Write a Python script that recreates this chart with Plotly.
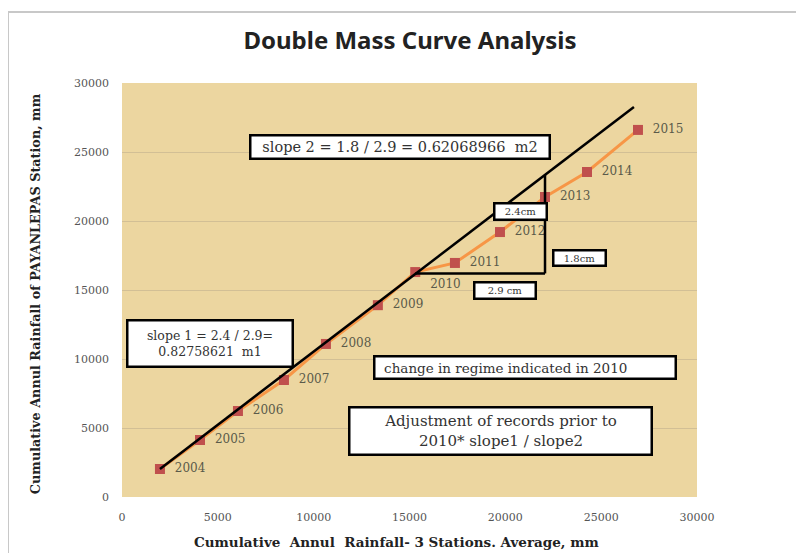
import plotly.graph_objects as go

years = ["2004", "2005", "2006", "2007", "2008", "2009", "2010", "2011", "2012", "2013", "2014", "2015"]
avg_cum = [1980, 4070, 6050, 8450, 10640, 13350, 15300, 17370, 19720, 22070, 24260, 26920]
station_cum = [2030, 4130, 6230, 8480, 11090, 13900, 16300, 16960, 19200, 21740, 23550, 26600]
trend_x = [1980, 26710]
trend_y = [2030, 28260]
tick_vals = [0, 5000, 10000, 15000, 20000, 25000, 30000]
tick_text = ["0", "5000", "10000", "15000", "20000", "25000", "30000"]

label_pos = ["middle right"] * len(years)
label_pos[6] = "bottom right"

serif = "DejaVu Serif"

fig = go.Figure()
fig.add_trace(go.Scatter(
    x=avg_cum, y=station_cum, mode="lines+markers+text",
    line=dict(color="#f79646", width=3),
    marker=dict(symbol="square", size=10, color="#c0504d"),
    text=["  " + y for y in years], textposition=label_pos,
    textfont=dict(family=serif, size=12, color="#5a5a4a"),
    showlegend=False, cliponaxis=False,
))
fig.add_trace(go.Scatter(
    x=trend_x, y=trend_y, mode="lines",
    line=dict(color="#000000", width=2.5), showlegend=False,
))

# slope triangle
fig.add_shape(type="line", x0=avg_cum[6], y0=16200, x1=avg_cum[9], y1=16200,
              line=dict(color="black", width=2.5))
fig.add_shape(type="line", x0=avg_cum[9], y0=16200, x1=avg_cum[9], y1=23340,
              line=dict(color="black", width=2.5))

boxes = [
    ("slope 2 = 1.8 / 2.9 = 0.62068966  m2", 14500, 25360, 297, 21, 14.5, "center"),
    ("2.4cm", 20810, 20720, 50, 14, 10, "center"),
    ("1.8cm", 23890, 17320, 50, 13, 10, "center"),
    ("2.9 cm", 19980, 14930, 59, 14, 10, "center"),
    ("slope 1 = 2.4 / 2.9=<br>0.82758621  m1", 4590, 11090, 163, 44, 12.5, "center"),
    ("&nbsp;&nbsp;change in regime indicated in 2010", 21020, 9420, 299, 20, 13.5, "left"),
    ("Adjustment of records prior to<br>2010* slope1 / slope2", 19770, 4780, 300, 45, 15, "center"),
]
for txt, x, y, w, h, fs, al in boxes:
    fig.add_annotation(x=x, y=y, text=txt, showarrow=False, xref="x", yref="y",
                       width=w, height=h, bgcolor="white", bordercolor="black",
                       borderwidth=2.5, borderpad=0, align=al,
                       font=dict(family=serif, size=fs, color="#333333"))

# axis titles
fig.add_annotation(text="<b>Cumulative  Annul  Rainfall- 3 Stations. Average, mm</b>",
                   xref="paper", yref="paper", x=0.478, y=-0.1087, showarrow=False,
                   xanchor="center", yanchor="middle",
                   font=dict(family=serif, size=13.5, color="#222222"))
fig.add_annotation(text="<b>Cumulative Annul Rainfall of PAYANLEPAS Station, mm</b>",
                   xref="paper", yref="paper", x=-0.1513, y=0.49, showarrow=False,
                   xanchor="center", yanchor="middle", textangle=-90,
                   font=dict(family=serif, size=12.8, color="#222222"))

# outer chart border
fig.add_shape(type="rect", xref="paper", yref="paper",
              x0=(8 - 122) / 575, x1=(830 - 122) / 575,
              y0=(497 - 580) / 414, y1=(497 - 12) / 414,
              line=dict(color="#c8c8c8", width=2), layer="below")

fig.update_layout(
    width=796, height=545,
    margin=dict(l=114, r=107, t=75, b=56),
    paper_bgcolor="white", plot_bgcolor="#ecd6a0",
    title=dict(text="<b>Double Mass Curve Analysis</b>", x=0.505, xanchor="center",
               y=0.94, yanchor="middle",
               font=dict(family="Noto Sans", size=24, color="#222222")),
    xaxis=dict(range=[0, 30000], tickvals=tick_vals, ticktext=tick_text,
               showgrid=False, zeroline=False, showline=False, ticks="",
               ticklabelstandoff=12, automargin=False,
               tickfont=dict(family=serif, size=11, color="#555555")),
    yaxis=dict(range=[0, 30000], tickvals=tick_vals, ticktext=tick_text,
               showgrid=True, gridcolor="#d2bf95", gridwidth=1, zeroline=False,
               showline=False, ticks="", ticklabelstandoff=12, automargin=False,
               tickfont=dict(family=serif, size=11, color="#555555")),
)

fig.write_html("out.html")
